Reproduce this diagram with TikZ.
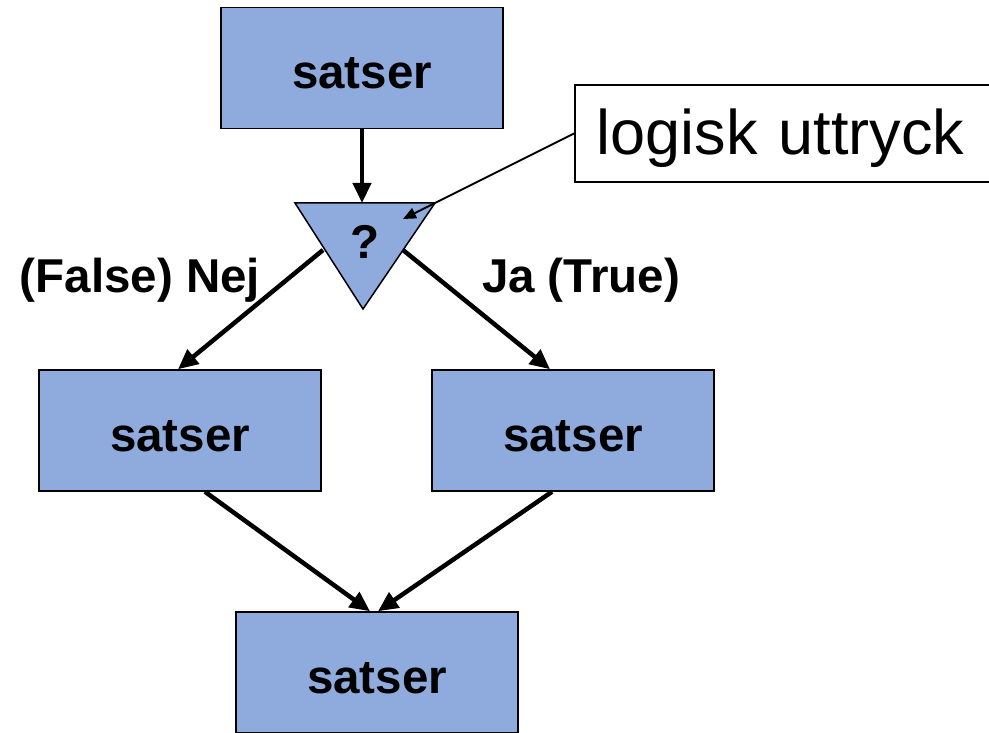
\documentclass[tikz,border=0pt]{standalone}
\usepackage{fontspec}
\setmainfont{Liberation Sans}
\usetikzlibrary{arrows.meta}
\definecolor{boxfill}{RGB}{143,170,220}
\begin{document}
\begin{tikzpicture}[x=1pt,y=-1pt,
  satsbox/.style={draw=black,line width=1.5pt,fill=boxfill,minimum width=282pt,minimum height=121pt,inner sep=0pt,text height=41pt,text depth=0pt,font=\fontsize{47.5pt}{52pt}\selectfont\bfseries},
  flow/.style={line width=4.5pt,-{Triangle[length=20pt,width=18pt]}},
  lbl/.style={font=\fontsize{47.5pt}{52pt}\selectfont\bfseries,inner sep=0pt}]
\clip (0,0) rectangle (989,733);
\fill[white] (0,0) rectangle (989,733);
\node[satsbox] (top) at (362,68) {satser};
\node[satsbox] (L) at (180,430.5) {satser};
\node[satsbox] (R) at (573,430.5) {satser};
\node[satsbox] (B) at (377,672.5) {satser};
% decision triangle
\coordinate (t1) at (295,203);
\coordinate (t2) at (435,203);
\coordinate (t3) at (363,309);
\coordinate (tq) at (362,203);
\coordinate (tl) at (323,250);
\coordinate (tr) at (403,250);
\coordinate (tin) at (403,219);
\draw[line width=1.5pt,fill=boxfill,line join=miter] (t1) -- (t2) -- (t3) -- cycle;
\node[lbl] (q) at (365,242) {?};
% callout
\node[draw=black,line width=1.5pt,fill=white,anchor=west,text width=420pt,align=left,inner xsep=22pt,inner ysep=0pt,minimum height=97pt,text height=56pt,text depth=13pt,font=\fontsize{63pt}{68pt}\selectfont] (cb) at (574,133.5) {logisk uttryck};
\draw[line width=2pt,-{Triangle[length=13pt,width=11pt]}] (cb.west) -- (tin);
% connectors
\draw[flow] (top.south) -- (tq);
\draw[flow] (tl) -- ([xshift=-2pt]L.north);
\draw[flow] (tr) -- ([xshift=-23pt]R.north);
\draw[flow] ([xshift=25pt]L.south) -- ([xshift=-7pt]B.north);
\draw[flow] ([xshift=-21pt]R.south) -- ([xshift=1pt]B.north);
% labels
\node[lbl] (nej) at (140,280) {(False) Nej};
\node[lbl] (ja) at (581,280) {Ja (True)};
\end{tikzpicture}
\end{document}
